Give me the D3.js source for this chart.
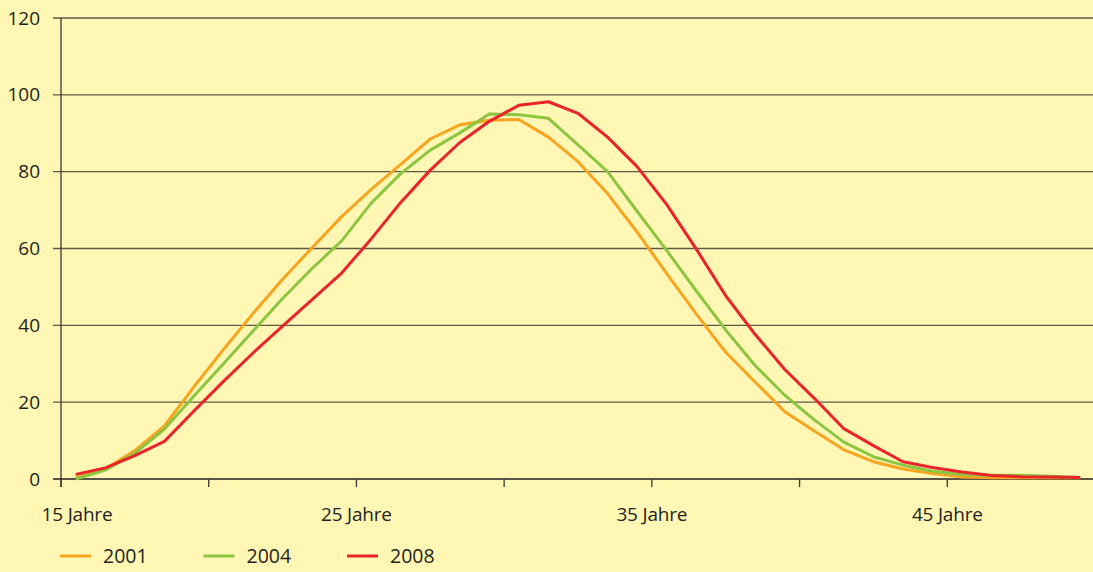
<!DOCTYPE html>
<html>
<head>
<meta charset="utf-8">
<script src="https://cdn.jsdelivr.net/npm/d3@7"></script>
<style>
  html, body { margin: 0; padding: 0; background: #fff7b3; overflow: hidden; }
  svg { display: block; font-family: "Open Sans", sans-serif; }
</style>
</head>
<body>
<div id="svg-container"></div>
<script>
// Chart size and margins
const width = 1093;
const height = 572;
const margins = { top: 18, right: 0, bottom: 93, left: 61 };
const innerWidth = width - margins.left - margins.right;
const innerHeight = height - margins.top - margins.bottom;

// Data: one value per age (15 to 49 years)
const ages = d3.range(15, 50);
const seriesNames = ["2001", "2004", "2008"];
const values2001 = [0.4, 2.6, 7.4, 13.8, 24, 33.7, 43.1, 52, 60.2, 68.3, 75.4, 81.9, 88.5, 92.2, 93.4, 93.6, 89, 82.6, 74.3, 64.3, 53.5, 43, 33, 25.2, 17.5, 12.5, 7.6, 4.5, 2.6, 1.4, 0.5, 0.3, 0.3, 0.3, 0.3];
const values2004 = [0, 2.3, 6.7, 13, 21.6, 30, 38.5, 47, 54.8, 62, 71.8, 79.5, 85.6, 90.1, 95, 94.8, 93.9, 87, 80, 69.7, 59.5, 49, 38.8, 29.5, 21.8, 15.4, 9.6, 5.8, 3.6, 2, 1.2, 1, 1, 0.7, 0.4];
const values2008 = [1.2, 2.9, 6.1, 9.8, 17.7, 25.4, 32.8, 39.8, 46.7, 53.6, 62.5, 72, 80.4, 87.6, 93.1, 97.3, 98.2, 95.2, 89, 81.3, 71.5, 59.9, 47.7, 37.6, 28.5, 21, 13.1, 8.7, 4.5, 3, 1.8, 0.9, 0.6, 0.5, 0.4];
const yTicks = [0, 20, 40, 60, 80, 100, 120];
const xTicks = [15, 20, 25, 30, 35, 40, 45];
const xLabels = [15, 25, 35, 45];

const series = [
  { name: seriesNames[0], values: values2001 },
  { name: seriesNames[1], values: values2004 },
  { name: seriesNames[2], values: values2008 }
];

const colorScale = d3.scaleOrdinal()
                    .domain(seriesNames)
                    .range(["#f7a520", "#8cc641", "#e9242b"]);

// Each age sits in the middle of its one-year slot (35 slots)
const xScale = d3.scaleLinear()
                .domain([15, 50])
                .range([0, 1034]);

const yScale = d3.scaleLinear()
                .domain([0, 120])
                .range([innerHeight, 0]);

const svg = d3.select("#svg-container")
  .append("svg")
    .attr("width", width)
    .attr("height", height);

svg.append("rect")
  .attr("width", width)
  .attr("height", height)
  .attr("fill", "#fff7b3");

const mainG = svg.append("g")
                .attr("transform", `translate(${margins.left}, ${margins.top})`);

// Gridlines (with tick stubs to the left of the y axis)
mainG.append("g")
  .selectAll("line")
  .data(yTicks.filter(d => d > 0))
  .enter()
  .append("line")
    .attr("x1", -8)
    .attr("x2", innerWidth)
    .attr("y1", d => yScale(d))
    .attr("y2", d => yScale(d))
    .attr("stroke", "#5e5a48")
    .attr("stroke-width", 1.3);

// y labels
mainG.append("g")
  .selectAll("text")
  .data(yTicks)
  .enter()
  .append("text")
    .attr("x", -21)
    .attr("y", d => yScale(d))
    .attr("dy", "0.35em")
    .attr("text-anchor", "end")
    .style("font-size", "19px")
    .style("fill", "#231f20")
    .text(d => d);

// y axis line
mainG.append("line")
  .attr("x1", 0).attr("x2", 0)
  .attr("y1", 0).attr("y2", innerHeight + 8)
  .attr("stroke", "#3a3833")
  .attr("stroke-width", 1.3);

// x axis line with zero tick stub
mainG.append("line")
  .attr("x1", -8).attr("x2", innerWidth)
  .attr("y1", innerHeight).attr("y2", innerHeight)
  .attr("stroke", "#231f20")
  .attr("stroke-width", 1.5);

// x ticks
mainG.append("g")
  .selectAll("line")
  .data(xTicks)
  .enter()
  .append("line")
    .attr("x1", d => xScale(d))
    .attr("x2", d => xScale(d))
    .attr("y1", innerHeight)
    .attr("y2", innerHeight + 8)
    .attr("stroke", "#3a3833")
    .attr("stroke-width", 1.3);

// x labels
mainG.append("g")
  .selectAll("text")
  .data(xLabels)
  .enter()
  .append("text")
    .attr("x", (d, i) => xScale(d) + (i === 0 ? 16 : 0))
    .attr("y", innerHeight + 42)
    .attr("text-anchor", "middle")
    .style("font-size", "19px")
    .style("letter-spacing", "-0.2px")
    .style("fill", "#231f20")
    .text(d => d + " Jahre");

// Lines
const line = d3.line()
  .x((d, i) => xScale(ages[i] + 0.5))
  .y(d => yScale(d));

mainG.selectAll("myLines")
  .data(series)
  .enter()
  .append("path")
    .attr("d", d => line(d.values))
    .attr("stroke", d => colorScale(d.name))
    .style("stroke-width", 3)
    .style("stroke-linejoin", "round")
    .style("fill", "none");

// Legend
const legend = svg.append("g")
  .attr("transform", "translate(60, 556)");

const legendItems = legend.selectAll("g")
  .data(seriesNames)
  .enter()
  .append("g")
    .attr("transform", (d, i) => `translate(${i * 143.5}, 0)`);

legendItems.append("line")
  .attr("x1", 0).attr("x2", 31)
  .attr("stroke", d => colorScale(d))
  .attr("stroke-width", 3);

legendItems.append("text")
  .attr("x", 43)
  .attr("dy", "0.35em")
  .style("font-size", "19.5px")
  .style("fill", "#231f20")
  .text(d => d);
</script>
</body>
</html>
